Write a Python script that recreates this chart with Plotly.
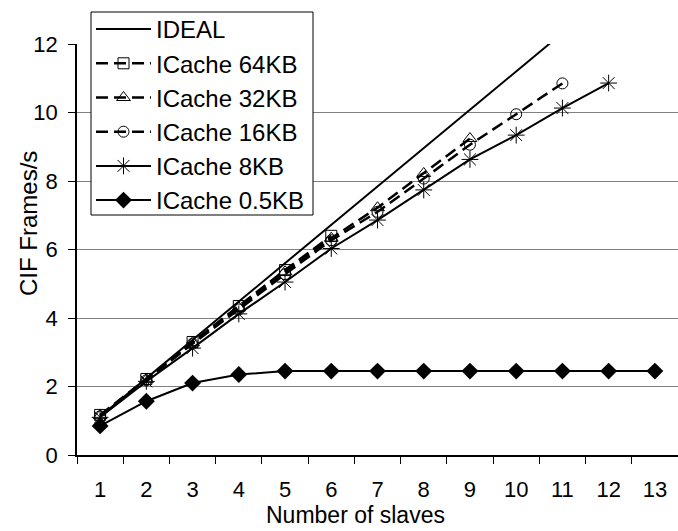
import plotly.graph_objects as go

slaves = ["1", "2", "3", "4", "5", "6", "7", "8", "9", "10", "11", "12", "13"]
ideal = [1.12, 2.24, 3.36, 4.48, 5.60, 6.72, 7.84, 8.96, 10.08, 11.20, 12.32, 13.44, 14.56]
icache_64 = [1.17, 2.22, 3.30, 4.35, 5.40, 6.40]
icache_32 = [1.15, 2.20, 3.28, 4.30, 5.35, 6.33, 7.22, 8.22, 9.24]
icache_16 = [1.13, 2.18, 3.25, 4.25, 5.28, 6.27, 7.10, 8.07, 9.06, 9.95, 10.85]
icache_8 = [1.10, 2.15, 3.12, 4.12, 5.05, 6.03, 6.86, 7.74, 8.63, 9.34, 10.13, 10.86]
icache_05 = [0.85, 1.57, 2.10, 2.35, 2.45, 2.45, 2.45, 2.45, 2.45, 2.45, 2.45, 2.45, 2.45]
x_title = "Number of slaves"
y_title = "CIF Frames/s"

FONT = "Liberation Sans, Arial, sans-serif"
DASH = "12px,6px"

# plot area geometry in pixels
L, R, T, B = 77, 678, 44, 455
PW, PH = R - L, B - T


def px_x(p):
    return (p - L) / PW


def px_y(p):
    return (B - p) / PH


fig = go.Figure()
fig.add_trace(go.Scatter(x=slaves[:len(ideal)], y=ideal, name="IDEAL", mode="lines",
                         line=dict(color="black", width=2)))
fig.add_trace(go.Scatter(x=slaves[:len(icache_64)], y=icache_64, name="ICache 64KB", mode="lines+markers",
                         line=dict(color="black", width=2.5, dash=DASH),
                         marker=dict(symbol="square-open", size=11, color="black", line=dict(width=1))))
fig.add_trace(go.Scatter(x=slaves[:len(icache_32)], y=icache_32, name="ICache 32KB", mode="lines+markers",
                         line=dict(color="black", width=2.5, dash=DASH),
                         marker=dict(symbol="triangle-up-open", size=12, color="black", line=dict(width=1))))
fig.add_trace(go.Scatter(x=slaves[:len(icache_16)], y=icache_16, name="ICache 16KB", mode="lines+markers",
                         line=dict(color="black", width=2.5, dash=DASH),
                         marker=dict(symbol="circle-open", size=11, color="black", line=dict(width=1))))
fig.add_trace(go.Scatter(x=slaves[:len(icache_8)], y=icache_8, name="ICache 8KB", mode="lines+markers",
                         line=dict(color="black", width=2),
                         marker=dict(symbol="asterisk-open", size=14, color="black", line=dict(width=1))))
fig.add_trace(go.Scatter(x=slaves[:len(icache_05)], y=icache_05, name="ICache 0.5KB", mode="lines+markers",
                         line=dict(color="black", width=2),
                         marker=dict(symbol="diamond", size=13, color="black")))

fig.update_layout(
    width=678, height=531,
    margin=dict(l=L, r=678 - R, t=T, b=531 - B, autoexpand=False),
    paper_bgcolor="white", plot_bgcolor="white",
    font=dict(family=FONT, size=22, color="black"),
    showlegend=True,
    legend=dict(x=px_x(91), y=px_y(7), xanchor="left", yanchor="top",
                bgcolor="rgba(0,0,0,0)", borderwidth=0,
                font=dict(size=24), itemwidth=55, tracegroupgap=0),
    shapes=[dict(type="rect", xref="paper", yref="paper", layer="above",
                 x0=px_x(91), x1=px_x(313), y0=px_y(215), y1=px_y(12),
                 fillcolor="white", line=dict(color="black", width=1))],
    annotations=[
        dict(text=x_title, xref="paper", yref="paper", x=px_x(355), y=px_y(515),
             xanchor="center", yanchor="middle", showarrow=False, font=dict(size=23)),
        dict(text=y_title, xref="paper", yref="paper", x=px_x(28), y=px_y(224),
             xanchor="center", yanchor="middle", showarrow=False, textangle=-90, font=dict(size=24)),
    ],
)

fig.update_xaxes(type="category", categoryorder="array", categoryarray=slaves,
                 range=[-0.5, 12.5], tickson="boundaries",
                 ticks="outside", ticklen=7, tickcolor="black", tickwidth=1,
                 showline=True, linecolor="black", linewidth=1.5,
                 showgrid=False, ticklabelstandoff=14,
                 tickfont=dict(size=22))
fig.update_yaxes(range=[0, 12], dtick=2, tick0=0,
                 ticks="outside", ticklen=7, tickcolor="black", tickwidth=1,
                 showline=True, linecolor="black", linewidth=1.5,
                 showgrid=True, gridcolor="#808080", gridwidth=1,
                 zeroline=False, ticklabelstandoff=6,
                 tickfont=dict(size=22))

fig.write_html("out.html", config={"displayModeBar": False},
               post_script="document.body.style.margin='0';document.body.style.overflow='hidden';")
